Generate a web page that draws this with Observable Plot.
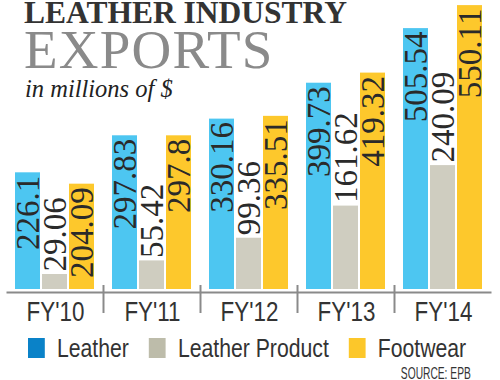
<!DOCTYPE html>
<html>
<head>
<meta charset="utf-8">
<script src="https://cdn.jsdelivr.net/npm/d3@7"></script>
<script src="https://cdn.jsdelivr.net/npm/@observablehq/plot@0.6"></script>
<style>
  html, body { margin: 0; padding: 0; background: #fff; }
  #wrap { position: relative; width: 500px; height: 380px; overflow: hidden; }
  #chart { position: absolute; left: 0; top: 0; }
  .t1 { position: absolute; left: 24px; top: -3px; font: bold 31.5px/31.5px "Liberation Serif", serif; color: #333; white-space: nowrap; }
  .t2 { position: absolute; left: 24px; top: 22px; font: 55px/55px "Liberation Serif", serif; letter-spacing: 1.2px; color: #8a8a8a; white-space: nowrap; }
  .t3 { position: absolute; left: 25px; top: 76.5px; font: italic 24.5px/24.5px "Liberation Serif", serif; color: #222; white-space: nowrap; }
  #legend { position: absolute; left: 28px; top: 335px; display: flex; align-items: center; font: 26.5px/26.5px "Liberation Sans", Arial, sans-serif; color: #333; white-space: nowrap; transform: scaleX(0.8); transform-origin: 0 50%; }
  #legend .sw { display: inline-block; width: 21.25px; height: 20px; margin-right: 15px; }
  #legend .item { display: flex; align-items: center; margin-right: 25px; }
  .src { position: absolute; right: 29px; top: 365px; font: 16.5px/16.5px "Liberation Sans", Arial, sans-serif; color: #333; white-space: nowrap; transform: scaleX(0.62); transform-origin: 100% 50%; }
</style>
</head>
<body>
<div id="wrap">
  <div id="chart"></div>
  <div class="t1">LEATHER INDUSTRY</div>
  <div class="t2">EXPORTS</div>
  <div class="t3">in millions of $</div>
  <div id="legend"></div>
  <div class="src">SOURCE: EPB</div>
</div>
<script>
const years = ["FY'10", "FY'11", "FY'12", "FY'13", "FY'14"];
const types = ["Leather", "Leather Product", "Footwear"];
const leather = [226.1, 297.83, 330.16, 399.73, 505.54];
const leatherProduct = [29.06, 55.42, 99.36, 161.62, 240.09];
const footwear = [204.09, 297.8, 335.51, 419.32, 550.11];
const labels = {
  "Leather": ["226.1", "297.83", "330.16", "399.73", "505.54"],
  "Leather Product": ["29.06", "55.42", "99.36", "161.62", "240.09"],
  "Footwear": ["204.09", "297.8", "335.51", "419.32", "550.11"]
};
const barColors = ["#4dc6f1", "#cfcdc0", "#fdc82c"];
const legendColors = ["#0a82c8", "#bdbcaa", "#fcc72a"];

const series = [leather, leatherProduct, footwear];
const rows = [];
years.forEach((yr, i) => {
  types.forEach((t, j) => {
    rows.push({year: yr, type: t, value: series[j][i], label: labels[t][i]});
  });
});

const chart = Plot.plot({
  width: 500,
  height: 330,
  marginTop: 0,
  marginBottom: 41,
  marginLeft: 12,
  marginRight: 13,
  style: {fontFamily: "'Liberation Sans', Arial, sans-serif", fontSize: "28px", color: "#333", background: "transparent", overflow: "visible"},
  facet: {data: rows, x: "year"},
  fx: {domain: years, paddingInner: 0.153, paddingOuter: 0, label: null, tickSize: 0, tickPadding: 12, axis: "bottom"},
  x: {domain: types, paddingInner: 0.07, paddingOuter: 0, axis: null},
  y: {domain: [0, 560], axis: null},
  color: {domain: types, range: barColors},
  marks: [
    Plot.barY(rows, {x: "type", y: "value", fill: "type"}),
    Plot.text(rows, {
      filter: d => d.type !== "Leather Product",
      x: "type", y: "value", text: "label",
      rotate: -90, textAnchor: "end", lineAnchor: "middle", dy: 3,
      fontFamily: "'Liberation Serif', serif", fontSize: 33, fill: "#2a2a2a"
    }),
    Plot.text(rows, {
      filter: d => d.type === "Leather Product",
      x: "type", y: "value", text: "label",
      rotate: -90, textAnchor: "start", lineAnchor: "middle", dy: -3,
      fontFamily: "'Liberation Serif', serif", fontSize: 33, fill: "#2a2a2a"
    }),
    Plot.ruleY([0], {stroke: "#8a8a8a", strokeWidth: 2, dy: 3, insetLeft: -7.5, insetRight: -7.5})
  ]
});
document.getElementById("chart").appendChild(chart);

// separators between year groups, positioned from Plot's fx and y scales
const fxS = chart.scale("fx");
const yS = chart.scale("y");
const band = fxS.bandwidth;
const step = fxS.step || (years.length > 1 ? fxS.apply(years[1]) - fxS.apply(years[0]) : band);
const y0 = yS.apply(0);
const svgEl = chart.tagName.toLowerCase() === "svg" ? chart : chart.querySelector("svg");
const svg = d3.select(svgEl);
const sep = svg.append("g").attr("stroke", "#8a8a8a").attr("stroke-width", 2);
years.slice(0, -1).forEach(yr => {
  const x = fxS.apply(yr) + band + (step - band) / 2;
  sep.append("line").attr("x1", x).attr("x2", x).attr("y1", y0 - 4).attr("y2", y0 + 24);
});

// condense the year tick labels (narrow face not installed): append a horizontal squeeze
svg.selectAll("g[aria-label^='fx-axis'] text").each(function() {
  const t = this.getAttribute("transform") || "";
  this.setAttribute("transform", (t + " scale(0.8,1)").trim());
});

// legend
const lg = document.getElementById("legend");
types.forEach((t, j) => {
  const item = document.createElement("span");
  item.className = "item";
  const sw = document.createElement("span");
  sw.className = "sw";
  sw.style.background = legendColors[j];
  item.appendChild(sw);
  item.appendChild(document.createTextNode(t));
  lg.appendChild(item);
});
</script>
</body>
</html>
